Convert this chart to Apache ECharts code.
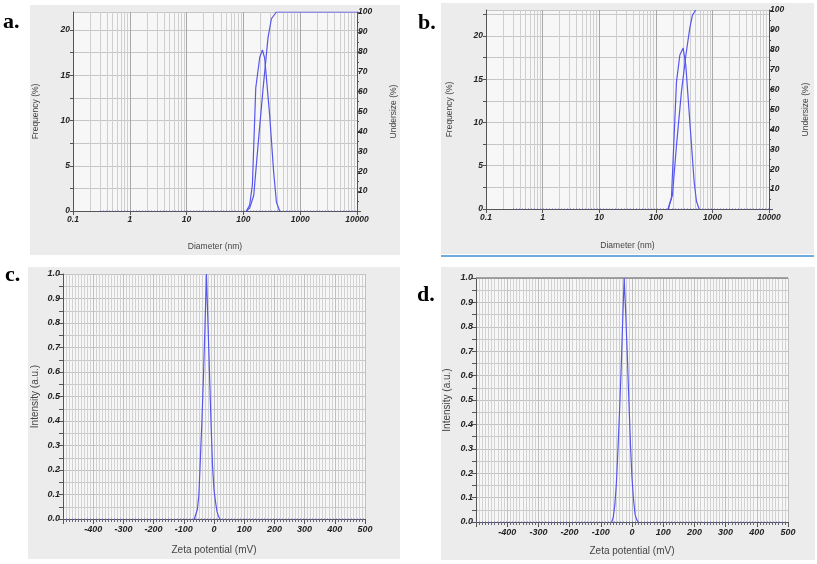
<!DOCTYPE html>
<html>
<head>
<meta charset="utf-8">
<script src="https://cdn.jsdelivr.net/npm/echarts@6/dist/echarts.min.js"></script>
<style>html,body{margin:0;padding:0;background:#fff;}#c{width:817px;height:564px;}</style>
</head>
<body>
<div id="c"></div>
<script>
// ---------- data ----------
// Panel a: size distribution (Diameter nm)
const aFreqSize = [113, 129, 144, 165, 194, 216, 237, 290, 341, 381, 435];
const aFreq     = [0, 0.66, 2.9, 13.6, 17.0, 17.8, 16.9, 10.6, 4.3, 1.0, 0];
const aUnderSize = [113, 129, 152, 181, 221, 271, 311, 381, 10000];
const aUnder     = [0, 1.5, 7.8, 33, 61, 87, 96.6, 100, 100];
// Panel b
const bFreqSize = [165, 189, 232, 266, 304, 339, 399, 475, 523, 582];
const bFreq     = [0, 1.3, 14.7, 17.8, 18.6, 16.6, 10.1, 3.2, 0.9, 0];
const bUnderSize = [165, 197, 232, 284, 339, 399, 445, 508];
const bUnder     = [0, 7, 32, 59, 77, 91, 97.5, 100];
// zero baselines (dotted)
const sizeBaseX = [0.3, 10000];
const sizeBaseY = [0, 0];
// Panel c: zeta potential (mV)
const cZeta = [-65, -60, -55, -50, -45, -40, -35, -30, -25, -20, -15, -10, -5, 0, 5, 10, 15, 20];
const cInt  = [0, 0.005, 0.04, 0.10, 0.25, 0.40, 0.58, 0.78, 1.0, 0.80, 0.60, 0.40, 0.22, 0.12, 0.07, 0.03, 0.01, 0];
// Panel d
const dZeta = [-65, -60, -55, -50, -45, -40, -35, -30, -25, -20, -15, -10, -5, 0, 5, 10, 15, 20];
const dInt  = [0, 0.02, 0.07, 0.16, 0.30, 0.45, 0.62, 0.82, 1.0, 0.85, 0.68, 0.50, 0.32, 0.18, 0.09, 0.03, 0.01, 0];
const zetaBaseX = [-500, 500];
const zetaBaseY = [0, 0];
// log-axis minor gridline positions
const decades = [0.1, 1, 10, 100, 1000];
const minorMult = [2, 3, 4, 5, 6, 7, 8, 9];
const panelLabels = ['a.', 'b.', 'c.', 'd.'];

// ---------- helpers ----------
const zip = (xs, ys) => xs.map((x, i) => [x, ys[i]]);
const minorLogLines = [];
decades.forEach(d => minorMult.forEach(m => minorLogLines.push({ xAxis: +(d * m).toPrecision(3) })));

const BLUE = '#5656ec';
const TICKFONT = { fontFamily: 'Liberation Sans, Arial', fontWeight: 'bold', fontStyle: 'italic', color: '#222' };
const NAMEFONT = { fontFamily: 'Liberation Sans, Arial', color: '#444' };
const GRIDC = '#c6c6c6';

function logX(gridIndex, gap) {
  return {
    type: 'log', logBase: 10, min: 0.1, max: 10000, gridIndex,
    name: 'Diameter (nm)', nameLocation: 'middle', nameGap: gap,
    nameTextStyle: Object.assign({ fontSize: 8.5 }, NAMEFONT),
    axisLine: { onZero: false, lineStyle: { color: '#555', width: 1 } },
    axisTick: { show: true, length: 4, lineStyle: { color: '#555' } },
    axisLabel: Object.assign({ fontSize: 8.5, margin: 4,
      formatter: v => String(+(+v).toPrecision(3)) }, TICKFONT),
    splitLine: { show: true, lineStyle: { color: '#a8a8a8', width: 1 } }
  };
}
function freqY(gridIndex, max, gap) {
  return {
    type: 'value', min: 0, max, interval: 2.5, gridIndex, position: 'left',
    name: 'Frequency (%)', nameLocation: 'middle', nameGap: gap,
    nameTextStyle: Object.assign({ fontSize: 8.5 }, NAMEFONT),
    axisLine: { show: true, onZero: false, lineStyle: { color: '#555' } },
    axisTick: { show: true, length: 3, lineStyle: { color: '#555' } },
    axisLabel: Object.assign({ fontSize: 8.5, margin: 3, showMaxLabel: false,
      formatter: v => (v % 5 === 0 ? String(v) : '') }, TICKFONT),
    splitLine: { show: true, lineStyle: { color: GRIDC } }
  };
}
function underY(gridIndex, gap) {
  return {
    type: 'value', min: 0, max: 100, interval: 10, gridIndex, position: 'right',
    name: 'Undersize (%)', nameLocation: 'middle', nameGap: gap,
    nameTextStyle: Object.assign({ fontSize: 8.5 }, NAMEFONT),
    axisLine: { show: true, onZero: false, lineStyle: { color: '#555' } },
    axisTick: { show: true, length: 4, lineStyle: { color: '#555' } },
    minorTick: { show: true, splitNumber: 2, length: 2, lineStyle: { color: '#555' } },
    axisLabel: Object.assign({ fontSize: 8.5, margin: 1, showMinLabel: false }, TICKFONT),
    splitLine: { show: false }
  };
}
function zetaX(gridIndex, gap) {
  return {
    type: 'value', min: -500, max: 500, interval: 100, gridIndex,
    name: 'Zeta potential (mV)', nameLocation: 'middle', nameGap: gap,
    nameTextStyle: Object.assign({ fontSize: 10 }, NAMEFONT),
    axisLine: { onZero: false, lineStyle: { color: '#555' } },
    axisTick: { show: true, length: 5, lineStyle: { color: '#555' } },
    minorTick: { show: true, splitNumber: 10, length: 3, lineStyle: { color: '#667' } },
    axisLabel: Object.assign({ fontSize: 9, margin: 6, showMinLabel: false }, TICKFONT),
    splitLine: { show: true, lineStyle: { color: '#c0c0c0' } },
    minorSplitLine: { show: true, lineStyle: { color: '#d2d2d2' } }
  };
}
function intY(gridIndex, gap) {
  return {
    type: 'value', min: 0, max: 1, interval: 0.1, gridIndex,
    name: 'Intensity (a.u.)', nameLocation: 'middle', nameGap: gap,
    nameTextStyle: Object.assign({ fontSize: 10 }, NAMEFONT),
    axisLine: { show: true, onZero: false, lineStyle: { color: '#555' } },
    axisTick: { show: true, length: 4, lineStyle: { color: '#555' } },
    minorTick: { show: true, splitNumber: 2, length: 4, lineStyle: { color: '#555' } },
    axisLabel: Object.assign({ fontSize: 9, margin: 3, formatter: v => v.toFixed(1) }, TICKFONT),
    splitLine: { show: true, lineStyle: { color: '#c0c0c0' } },
    minorSplitLine: { show: true, lineStyle: { color: '#c8c8c8' } }
  };
}
function curve(name, xi, yi, data) {
  return { name, type: 'line', xAxisIndex: xi, yAxisIndex: yi, data, showSymbol: false,
    lineStyle: { color: BLUE, width: 1.2 }, z: 5, silent: true };
}
function base(xi, yi, data, extra) {
  return Object.assign({ type: 'line', xAxisIndex: xi, yAxisIndex: yi, data, showSymbol: false,
    lineStyle: { color: '#6a6ae0', width: 1, type: [1, 2] }, z: 4, silent: true }, extra || {});
}
const minorMark = { silent: true, symbol: 'none', label: { show: false },
  lineStyle: { color: '#cfcfcf', width: 1, type: 'solid' }, data: minorLogLines, z: 1 };

const chart = echarts.init(document.getElementById('c'), null, { renderer: 'canvas', width: 817, height: 564 });
const gridStyle = { show: true, backgroundColor: '#f7f7f7', borderWidth: 0 };
const option = {
  animation: false,
  graphic: [
    { type: 'rect', shape: { x: 30, y: 5, width: 370, height: 250 }, style: { fill: '#ececec' }, z: -10 },
    { type: 'rect', shape: { x: 441, y: 3, width: 373, height: 251 }, style: { fill: '#ececec' }, z: -10 },
    { type: 'line', shape: { x1: 441, y1: 256, x2: 814, y2: 256 }, style: { stroke: '#3f8fd4', lineWidth: 1.5 }, z: -10 },
    { type: 'rect', shape: { x: 28, y: 267, width: 372, height: 292 }, style: { fill: '#ececec' }, z: -10 },
    { type: 'rect', shape: { x: 441, y: 267, width: 374, height: 293 }, style: { fill: '#ececec' }, z: -10 },
    { type: 'text', x: 3, y: 22, style: { text: panelLabels[0], font: 'bold 22px "Liberation Serif", serif', fill: '#000', verticalAlign: 'middle' } },
    { type: 'text', x: 418, y: 23, style: { text: panelLabels[1], font: 'bold 22px "Liberation Serif", serif', fill: '#000', verticalAlign: 'middle' } },
    { type: 'text', x: 5, y: 275, style: { text: panelLabels[2], font: 'bold 22px "Liberation Serif", serif', fill: '#000', verticalAlign: 'middle' } },
    { type: 'text', x: 417, y: 295, style: { text: panelLabels[3], font: 'bold 22px "Liberation Serif", serif', fill: '#000', verticalAlign: 'middle' } }
  ],
  grid: [
    Object.assign({ left: 73, top: 12, width: 284, height: 199 }, gridStyle),
    Object.assign({ left: 486, top: 10, width: 283, height: 199 }, gridStyle),
    Object.assign({ left: 63, top: 274, width: 302, height: 245 }, gridStyle),
    Object.assign({ left: 476, top: 278, width: 312, height: 244 }, gridStyle)
  ],
  xAxis: [ logX(0, 31), logX(1, 32), zetaX(2, 26), zetaX(3, 24) ],
  yAxis: [ freqY(0, 22, 33), underY(0, 32), freqY(1, 23, 32), underY(1, 32), intY(2, 23), intY(3, 24) ],
  series: [
    base(0, 0, zip(sizeBaseX, sizeBaseY), { markLine: minorMark }),
    curve('a freq', 0, 0, zip(aFreqSize, aFreq)),
    curve('a under', 0, 1, zip(aUnderSize, aUnder)),
    base(1, 2, zip(sizeBaseX, sizeBaseY), { markLine: minorMark }),
    curve('b freq', 1, 2, zip(bFreqSize, bFreq)),
    curve('b under', 1, 3, zip(bUnderSize, bUnder)),
    base(2, 4, zip(zetaBaseX, zetaBaseY)),
    curve('c', 2, 4, zip(cZeta, cInt)),
    base(3, 5, zip(zetaBaseX, zetaBaseY), { markLine: { silent: true, symbol: 'none', label: { show: false },
      lineStyle: { color: '#8a8a8a', width: 1.5, type: 'solid' }, data: [{ yAxis: 1 }] } }),
    curve('d', 3, 5, zip(dZeta, dInt))
  ]
};
chart.setOption(option);
</script>
</body>
</html>
